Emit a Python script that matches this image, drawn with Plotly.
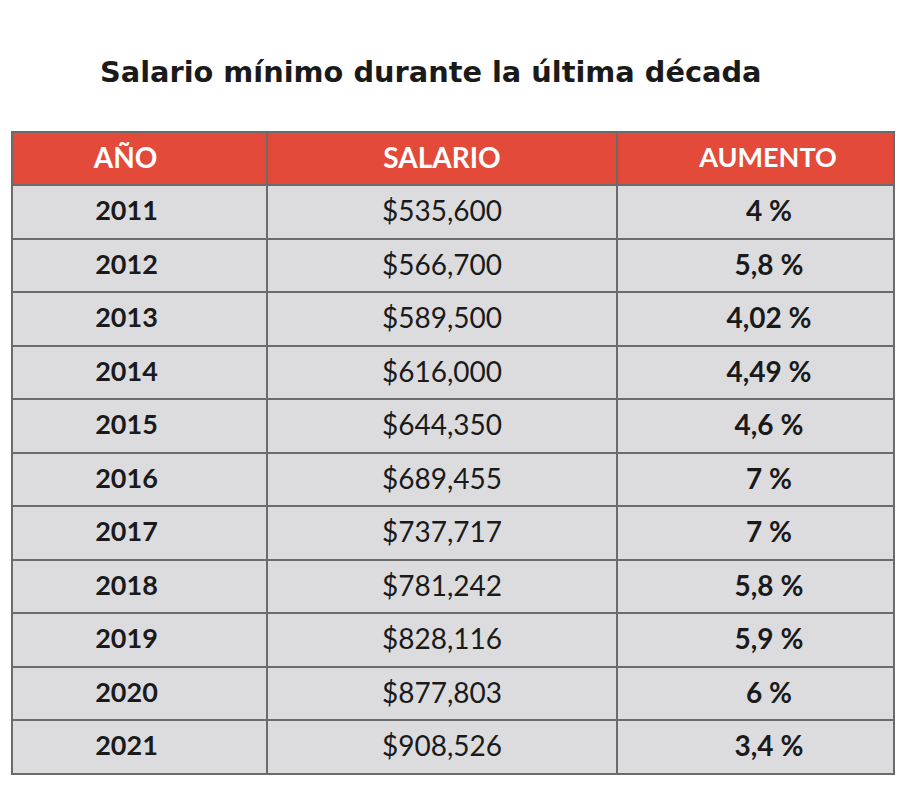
import plotly.graph_objects as go

title = "Salario mínimo durante la última década"
headers = ["AÑO", "SALARIO", "AUMENTO"]
years = ["2011", "2012", "2013", "2014", "2015", "2016", "2017", "2018", "2019", "2020", "2021"]
salaries = ["$535,600", "$566,700", "$589,500", "$616,000", "$644,350", "$689,455",
            "$737,717", "$781,242", "$828,116", "$877,803", "$908,526"]
increases = ["4", "5,8", "4,02", "4,49", "4,6", "7", "7", "5,8", "5,9", "6", "3,4"]

W, H = 906, 789
FONT = "Lato"
NB = "\u00a0"
LEFT_PAD = NB * 4    # shifts centred text left in column 1
RIGHT_PAD = NB * 4   # shifts centred text right in column 3


def pct(v):
    return f"<b>{RIGHT_PAD}{v}{NB}%</b>"


fig = go.Figure(go.Table(
    domain=dict(x=[12 / W, 894 / W], y=[0, 1 - 132 / H]),
    columnwidth=[255, 349, 277],
    header=dict(
        values=[f"<b>{headers[0]}{LEFT_PAD}</b>", f"<b>{headers[1]}</b>",
                f"<b>{RIGHT_PAD}{headers[2]}</b>"],
        fill_color="#e34a39",
        line=dict(color="#6b6b6b", width=2),
        font=dict(family=FONT, size=[28, 28, 27], color="white"),
        align="center",
        height=53,
    ),
    cells=dict(
        values=[[f"<b>{y}{LEFT_PAD}</b>" for y in years],
                [f"<b></b>{s}" for s in salaries],
                [pct(p) for p in increases]],
        fill_color="#dcdcde",
        line=dict(color="#6b6b6b", width=2),
        font=dict(family=FONT, size=[27, 28, 28], color="#1a1a1a"),
        align="center",
        height=53.5,
    ),
))

fig.add_annotation(
    text=f"<b>{title}</b>", x=98 / W, y=1 - 72 / H, xref="paper", yref="paper",
    xanchor="left", yanchor="middle", showarrow=False,
    font=dict(family="DejaVu Sans", size=28.8, color="#1a1a1a"),
)

fig.update_layout(
    width=W, height=H, margin=dict(l=0, r=0, t=0, b=0),
    paper_bgcolor="white", plot_bgcolor="white",
)

fig.write_html("out.html", config={"displayModeBar": False},
               post_script="document.body.style.margin='0';")
